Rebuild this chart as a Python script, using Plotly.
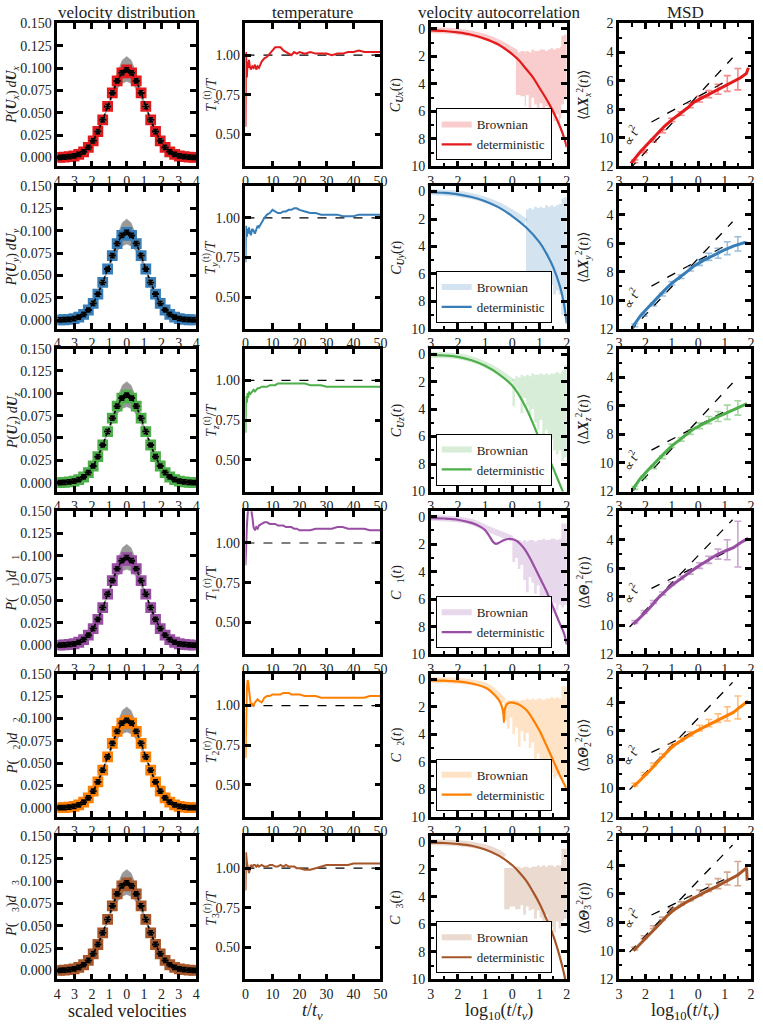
import plotly.graph_objects as go
from plotly.subplots import make_subplots

# ---------------- data ----------------
colors = ['#e41a1c', '#377eb8', '#4daf4a', '#984ea3', '#ff7f00', '#a65628']
light = ['rgba(228,26,28,0.22)', 'rgba(55,126,184,0.22)', 'rgba(77,175,74,0.22)',
         'rgba(152,78,163,0.22)', 'rgba(255,127,0,0.22)', 'rgba(166,86,40,0.22)']
errc = ['rgba(228,26,28,0.5)', 'rgba(55,126,184,0.5)', 'rgba(77,175,74,0.5)',
        'rgba(152,78,163,0.5)', 'rgba(255,127,0,0.5)', 'rgba(166,86,40,0.5)']

# velocity distribution (same binning in every row)
v_bins = [-3.86, -3.59, -3.31, -3.03, -2.76, -2.48, -2.21, -1.93, -1.66, -1.38, -1.10, -0.83, -0.55,
          -0.28, 0.0, 0.28, 0.55, 0.83, 1.10, 1.38, 1.66, 1.93, 2.21, 2.48, 2.76, 3.03, 3.31, 3.59, 3.86]
p_vals = [0.0001, 0.0003, 0.0008, 0.0016, 0.0033, 0.0063, 0.0112, 0.0186, 0.0290, 0.0421, 0.0571,
          0.0722, 0.0856, 0.0947, 0.0980, 0.0947, 0.0856, 0.0722, 0.0571, 0.0421, 0.0290, 0.0186,
          0.0112, 0.0063, 0.0033, 0.0016, 0.0008, 0.0003, 0.0001]
p_err = 0.0022
band_x = [-4, -3.5, -3, -2.5, -2, -1.5, -1.25, -1, -0.75, -0.5, -0.25, 0, 0.25, 0.5, 0.75, 1, 1.25,
          1.5, 2, 2.5, 3, 3.5, 4]
band_hi = [0.0, 0.0001, 0.0005, 0.003, 0.011, 0.030, 0.045, 0.062, 0.081, 0.097, 0.109, 0.113, 0.109,
           0.097, 0.081, 0.062, 0.045, 0.030, 0.011, 0.003, 0.0005, 0.0001, 0.0]
band_lo = [0.0003, 0.0012, 0.0038, 0.0097, 0.020, 0.039, 0.050, 0.060, 0.069, 0.078, 0.083, 0.085,
           0.083, 0.078, 0.069, 0.060, 0.050, 0.039, 0.020, 0.0097, 0.0038, 0.0012, 0.0003]

# temperature
t_temp = [0, 0.2, 0.5, 0.8, 1, 1.3, 1.6, 2, 2.5, 3, 3.5, 4, 4.5, 5, 6, 7, 8, 9, 10, 11, 12, 13, 14, 15,
          16, 17, 18, 19, 20, 22, 24, 26, 28, 30, 32, 34, 36, 38, 40, 42, 44, 46, 48, 50]
T_red = [0.55, 1.02, 0.86, 0.96, 0.92, 0.97, 0.93, 0.91, 0.93, 0.92, 0.94, 0.91, 0.93, 0.92, 0.96, 0.98,
         0.99, 1.01, 1.03, 1.05, 1.05, 1.05, 1.03, 1.02, 1.01, 1.00, 1.02, 1.01, 1.02, 1.01, 1.02, 1.01,
         1.01, 1.01, 1.00, 1.01, 1.01, 1.02, 1.02, 1.03, 1.02, 1.02, 1.02, 1.02]
T_blue = [0.72, 0.95, 0.88, 0.93, 0.90, 0.94, 0.91, 0.89, 0.93, 0.92, 0.90, 0.93, 0.95, 0.94, 0.97, 1.00,
          1.02, 1.03, 1.05, 1.04, 1.03, 1.03, 1.04, 1.04, 1.05, 1.05, 1.06, 1.06, 1.05, 1.04, 1.03, 1.03,
          1.02, 1.02, 1.02, 1.02, 1.01, 1.01, 1.01, 1.02, 1.02, 1.02, 1.02, 1.02]
T_green = [0.67, 0.90, 0.86, 0.92, 0.89, 0.93, 0.91, 0.92, 0.93, 0.94, 0.93, 0.94, 0.95, 0.95, 0.96, 0.96,
           0.96, 0.97, 0.97, 0.97, 0.98, 0.98, 0.98, 0.98, 0.98, 0.98, 0.98, 0.98, 0.98, 0.98, 0.97, 0.97,
           0.97, 0.96, 0.96, 0.96, 0.96, 0.96, 0.96, 0.96, 0.96, 0.96, 0.96, 0.96]
T_purple = [0.86, 1.00, 1.10, 1.18, 1.22, 1.25, 1.24, 1.22, 1.17, 1.10, 1.08, 1.10, 1.09, 1.11, 1.12, 1.13,
            1.13, 1.12, 1.12, 1.12, 1.11, 1.11, 1.11, 1.10, 1.10, 1.10, 1.09, 1.09, 1.08, 1.08, 1.08, 1.09,
            1.09, 1.09, 1.09, 1.10, 1.10, 1.09, 1.09, 1.09, 1.09, 1.08, 1.08, 1.08]
T_orange = [0.67, 0.95, 1.10, 1.16, 1.15, 1.10, 1.04, 1.00, 1.01, 1.00, 1.02, 1.03, 1.04, 1.03, 1.02, 1.05,
            1.06, 1.06, 1.07, 1.07, 1.07, 1.07, 1.08, 1.08, 1.08, 1.07, 1.07, 1.07, 1.07, 1.06, 1.06, 1.06,
            1.05, 1.05, 1.05, 1.05, 1.05, 1.05, 1.05, 1.05, 1.05, 1.06, 1.06, 1.06]
T_brown = [0.86, 1.10, 1.04, 1.00, 0.98, 0.97, 0.99, 1.02, 1.01, 1.02, 1.02, 1.01, 1.02, 1.01, 1.02, 1.01,
           1.01, 1.02, 1.02, 1.01, 1.01, 1.02, 1.01, 1.02, 1.01, 1.01, 1.01, 1.00, 1.00, 0.99, 0.99, 1.00,
           1.01, 1.02, 1.02, 1.02, 1.02, 1.02, 1.03, 1.03, 1.03, 1.03, 1.03, 1.03]
T_rows = [T_red, T_blue, T_green, T_purple, T_orange, T_brown]
t_ref = [0, 50]
T_ref = [1.0, 1.0]

# velocity autocorrelation: deterministic curves
det_x = [
    [-3, -2.5, -2, -1.5, -1, -0.5, 0, 0.25, 0.5, 0.75, 1, 1.25, 1.5, 1.75, 1.9, 2],
    [-3, -2.5, -2, -1.5, -1, -0.5, 0, 0.5, 1, 1.25, 1.5, 1.75, 1.9, 2],
    [-3, -2.5, -2, -1.5, -1, -0.5, 0, 0.25, 0.5, 0.75, 1, 1.25, 1.5, 1.75, 1.9],
    [-3, -2.5, -2, -1.5, -1.2, -1, -0.85, -0.7, -0.6, -0.5, -0.3, -0.15, 0.1, 0.3, 0.5, 0.75, 1, 1.25,
     1.5, 1.75, 1.9, 2],
    [-3, -2.5, -2, -1.5, -1, -0.75, -0.5, -0.4, -0.33, -0.31, -0.28, -0.2, -0.05, 0.2, 0.5, 0.75, 1,
     1.25, 1.5, 1.75, 1.9, 2],
    [-3, -2.5, -2, -1.5, -1, -0.5, 0, 0.25, 0.5, 0.75, 1, 1.25, 1.5, 1.75, 1.9, 1.95],
]
det_y = [
    [-0.1, -0.15, -0.25, -0.42, -0.72, -1.15, -1.85, -2.3, -2.9, -3.5, -4.3, -5.1, -6.0, -7.1, -7.9, -8.6],
    [-0.05, -0.1, -0.2, -0.4, -0.7, -1.15, -1.8, -2.6, -3.7, -4.5, -5.5, -6.9, -8.2, -9.6],
    [-0.05, -0.1, -0.2, -0.45, -0.85, -1.45, -2.3, -3.0, -3.9, -5.0, -6.2, -7.2, -8.3, -9.5, -10.2],
    [-0.1, -0.13, -0.22, -0.45, -0.7, -0.98, -1.4, -1.85, -1.97, -1.9, -1.7, -1.62, -1.7, -2.0, -2.5, -3.4,
     -4.4, -5.4, -6.6, -7.8, -8.5, -9.3],
    [-0.08, -0.1, -0.15, -0.3, -0.6, -0.95, -1.5, -1.9, -2.5, -3.1, -2.2, -1.8, -1.68, -1.8, -2.2, -2.9,
     -3.75, -4.8, -5.9, -7.0, -7.6, -8.0],
    [-0.05, -0.08, -0.15, -0.28, -0.55, -1.0, -1.7, -2.2, -2.8, -3.6, -4.5, -5.6, -6.8, -8.4, -9.6, -10.1],
]
# Brownian: smooth early part
brw_x = [
    [-3, -2.5, -2, -1.5, -1, -0.5, 0, 0.15],
    [-3, -2.5, -2, -1.5, -1, -0.5, 0, 0.5],
    [-3, -2.5, -2, -1.5, -1, -0.5, 0],
    [-3, -2.5, -2, -1.5, -1, -0.5, 0],
    [-3, -2.5, -2, -1.5, -1, -0.75, -0.5, -0.3],
    [-3, -2.5, -2, -1.5, -1, -0.5, -0.3],
]
brw_y = [
    [-0.08, -0.12, -0.2, -0.35, -0.6, -1.0, -1.55, -1.75],
    [-0.04, -0.08, -0.16, -0.33, -0.6, -1.0, -1.55, -2.2],
    [-0.04, -0.08, -0.16, -0.38, -0.75, -1.3, -2.0],
    [-0.08, -0.12, -0.2, -0.38, -0.8, -1.2, -1.6],
    [-0.05, -0.07, -0.12, -0.22, -0.45, -0.75, -1.2, -1.6],
    [-0.03, -0.05, -0.1, -0.2, -0.4, -0.8, -1.1],
]
# Brownian: noisy late part (upper / lower envelope)
nz_x = [
    [0.13, 0.3, 0.45, 0.5, 0.6, 0.7, 0.8, 0.9, 1.0, 1.1, 1.2, 1.3, 1.4, 1.5, 1.6, 1.7, 1.75, 1.8, 1.9, 2.0],
    [0.5, 0.6, 0.7, 0.8, 0.9, 1.0, 1.1, 1.2, 1.3, 1.4, 1.5, 1.6, 1.7, 1.8, 1.9, 2.0],
    [0.0, 0.1, 0.2, 0.3, 0.4, 0.5, 0.6, 0.7, 0.8, 0.9, 1.0, 1.1, 1.2, 1.3, 1.4, 1.5, 1.6, 1.7, 1.8, 1.9, 2.0],
    [0.0, 0.1, 0.2, 0.3, 0.4, 0.5, 0.6, 0.7, 0.8, 0.9, 1.0, 1.1, 1.2, 1.3, 1.4, 1.5, 1.6, 1.7, 1.8, 1.9, 2.0],
    [-0.3, -0.2, -0.1, 0.0, 0.1, 0.2, 0.3, 0.4, 0.5, 0.6, 0.7, 0.8, 0.9, 1.0, 1.1, 1.2, 1.3, 1.4, 1.5,
     1.6, 1.7, 1.8, 1.9, 2.0],
    [-0.3, -0.1, 0.1, 0.3, 0.4, 0.5, 0.6, 0.7, 0.8, 0.9, 1.0, 1.1, 1.2, 1.3, 1.4, 1.5, 1.6, 1.7, 1.8, 1.9, 2.0],
]
nz_up = [
    [-1.7, -1.6, -1.7, -1.6, -1.7, -1.5, -1.6, -1.6, -1.5, -1.5, -1.6, -1.5, -1.4, -1.5, -1.4, -1.4, -1.3,
     -0.5, -0.4, -0.4],
    [-1.3, -1.2, -1.3, -1.1, -1.2, -1.1, -1.2, -1.0, -1.1, -1.0, -1.1, -1.0, -0.9, -0.5, -0.4, -0.4],
    [-1.8, -1.6, -1.7, -1.5, -1.6, -1.5, -1.6, -1.4, -1.5, -1.5, -1.4, -1.5, -1.4, -1.5, -1.4, -1.4, -1.3,
     -1.4, -1.2, -0.8, -0.7],
    [-1.7, -1.8, -1.7, -1.8, -1.7, -1.8, -1.7, -1.7, -1.8, -1.7, -1.7, -1.6, -1.7, -1.7, -1.6, -1.6, -1.7,
     -1.6, -0.5, -0.5, -0.5],
    [-1.6, -1.5, -1.6, -1.5, -1.5, -1.6, -1.5, -1.5, -1.4, -1.5, -1.4, -1.5, -1.4, -1.4, -1.5, -1.4, -1.4,
     -1.3, -1.4, -1.3, -1.4, -0.5, -0.5, -0.5],
    [-1.9, -1.9, -1.8, -1.9, -1.8, -1.8, -1.9, -1.8, -1.8, -1.7, -1.8, -1.7, -1.8, -1.7, -1.7, -1.8, -1.7,
     -1.7, -0.5, -0.5, -0.5],
]
nz_lo = [
    [-4.8, -4.8, -4.9, -5.6, -4.8, -6.4, -5.0, -5.5, -6.4, -5.4, -6.3, -5.6, -6.4, -6.2, -6.7, -6.2, -7.0,
     -6.5, -5.5, -5.0],
    [-5.2, -6.5, -6.0, -7.0, -6.5, -6.5, -8.2, -6.8, -7.5, -8.0, -6.8, -7.5, -7.2, -7.5, -9.0, -8.5],
    [-2.2, -3.8, -2.5, -3.0, -4.3, -3.2, -3.8, -4.5, -4.0, -5.0, -5.5, -4.8, -6.0, -5.5, -6.8, -6.2, -7.0,
     -7.3, -7.0, -7.8, -7.5],
    [-2.4, -3.3, -3.0, -3.8, -3.5, -4.6, -5.5, -4.4, -4.8, -5.6, -5.0, -6.2, -5.8, -7.2, -6.5, -7.0, -6.3,
     -6.8, -6.4, -6.6, -6.4],
    [-2.5, -3.0, -3.6, -2.8, -4.0, -3.5, -4.9, -3.8, -4.5, -3.9, -5.0, -4.6, -6.0, -5.4, -7.0, -6.2, -7.2,
     -6.5, -6.8, -7.2, -7.0, -6.8, -7.2, -7.0],
    [-4.8, -4.9, -4.7, -4.9, -4.6, -5.3, -4.7, -5.0, -4.9, -5.6, -5.0, -5.5, -6.0, -5.3, -6.5, -6.2, -6.6,
     -5.8, -6.3, -5.8, -5.6],
]

# MSD
msd_x = [
    [-2.55, -2.2, -1.9, -1.6, -1.28, -1.0, -0.66, -0.4, -0.16, 0.2, 0.58, 0.95, 1.33, 1.6, 1.82, 1.9],
    [-2.5, -2.2, -1.9, -1.6, -1.28, -1.0, -0.66, -0.4, -0.16, 0.2, 0.58, 0.95, 1.33, 1.6, 1.75, 1.85],
    [-2.5, -2.2, -1.9, -1.6, -1.28, -1.0, -0.66, -0.4, -0.16, 0.2, 0.58, 0.95, 1.33, 1.6, 1.75, 1.85],
    [-2.45, -2.2, -1.9, -1.53, -1.2, -0.9, -0.66, -0.35, -0.04, 0.3, 0.7, 1.0, 1.33, 1.6, 1.89],
    [-2.45, -2.28, -1.9, -1.5, -1.2, -0.91, -0.5, -0.16, 0.2, 0.7, 1.0, 1.33, 1.6, 1.89],
    [-2.45, -2.34, -1.9, -1.5, -1.2, -0.91, -0.5, -0.16, 0.2, 0.7, 1.0, 1.26, 1.5, 1.83, 1.85, 1.9],
]
msd_y = [
    [-11.8, -11.0, -10.4, -9.8, -9.2, -8.75, -8.3, -7.9, -7.5, -7.15, -6.8, -6.45, -6.1, -5.8, -5.5, -5.1],
    [-11.9, -11.1, -10.5, -9.9, -9.3, -8.8, -8.35, -7.95, -7.6, -7.2, -6.85, -6.5, -6.2, -6.05, -5.95, -6.0],
    [-11.9, -11.1, -10.5, -9.9, -9.3, -8.8, -8.35, -7.95, -7.6, -7.25, -6.9, -6.6, -6.3, -6.1, -5.95, -5.85],
    [-9.9, -9.45, -8.9, -8.1, -7.5, -7.05, -6.7, -6.3, -5.9, -5.5, -5.05, -4.8, -4.55, -4.2, -3.9],
    [-9.9, -9.6, -8.9, -8.1, -7.5, -7.0, -6.5, -6.1, -5.75, -5.3, -5.0, -4.7, -4.3, -3.9],
    [-10.0, -9.8, -9.0, -8.2, -7.6, -7.13, -6.65, -6.3, -5.95, -5.5, -5.2, -4.9, -4.7, -4.2, -5.0, -5.0],
]
err_x = [-2.4, -2.05, -1.7, -1.35, -1.0, -0.65, -0.3, 0.05, 0.4, 0.75, 1.1, 1.5]
err_y = [
    [-11.65, -10.95, -10.2, -9.55, -8.75, -8.3, -7.75, -7.3, -6.95, -6.6, -6.2, -5.9],
    [-11.75, -11.0, -10.3, -9.6, -8.8, -8.35, -7.8, -7.35, -6.95, -6.7, -6.35, -6.05],
    [-11.75, -11.0, -10.3, -9.6, -8.8, -8.35, -7.85, -7.4, -7.0, -6.75, -6.45, -6.15],
    [-9.75, -9.05, -8.35, -7.75, -7.05, -6.65, -6.25, -5.8, -5.4, -5.0, -4.7, -4.3],
    [-9.75, -9.0, -8.35, -7.7, -7.0, -6.6, -6.2, -5.8, -5.45, -5.1, -4.8, -4.35],
    [-9.85, -9.05, -8.35, -7.75, -7.1, -6.7, -6.35, -5.95, -5.6, -5.3, -4.95, -4.6],
]
err_h = [
    [0.1, 0.1, 0.1, 0.1, 0.12, 0.12, 0.15, 0.2, 0.25, 0.35, 0.55, 0.75],
    [0.1, 0.1, 0.1, 0.1, 0.12, 0.12, 0.15, 0.2, 0.25, 0.35, 0.45, 0.5],
    [0.1, 0.1, 0.1, 0.1, 0.12, 0.12, 0.15, 0.2, 0.25, 0.35, 0.5, 0.5],
    [0.1, 0.1, 0.1, 0.1, 0.1, 0.12, 0.15, 0.2, 0.25, 0.35, 0.7, 1.6],
    [0.1, 0.1, 0.1, 0.1, 0.1, 0.12, 0.15, 0.2, 0.25, 0.3, 0.5, 0.8],
    [0.1, 0.1, 0.1, 0.1, 0.1, 0.12, 0.15, 0.2, 0.25, 0.35, 0.45, 0.85],
]
steep_x = [-2.6, 1.3]
steep_y = [[-12.2, -4.4], [-12.2, -4.5], [-12.2, -4.4], [-10.1, -2.6], [-10.1, -2.6], [-10.1, -2.6]]
flat_x = [-1.77, 1.0]
flat_y = [[-8.9, -6.1], [-9.0, -6.2], [-9.1, -6.4], [-7.4, -4.9], [-7.5, -5.0], [-7.5, -5.0]]
msd_top = [-2, -2, -2, -2, -2, -2]

# labels
col_titles = ['velocity distribution', 'temperature', 'velocity autocorrelation', 'MSD']
comp = ['x', 'y', 'z']
gap = '\u00a0\u00a0\u00a0'
ylab_p = [f'<i>P</i>(<b><i>U</i></b><sub><i>{c}</i></sub>)<i>\u2009d</i><b><i>U</i></b><sub><i>{c}</i></sub>'
          for c in comp] + [f'<i>P</i>({gap}<sub>{k}</sub>)<i>d</i>{gap}<sub>{k}</sub>' for k in (1, 2, 3)]
ylab_t = [f'<i>T</i><sub><i>{c}</i></sub><sup>(t)</sup>/<i>T</i>' for c in comp] + \
         ['<i>T</i><sub>1</sub><sup>(r)</sup>/T', '<i>T</i><sub>2</sub><sup>(r)</sup>/<i>T</i>',
          '<i>T</i><sub>3</sub><sup>(r)</sup>/<i>T</i>']
ylab_c = [f'<i>C</i><sub><b><i>U</i></b><i>{c}</i></sub>(<i>t</i>)' for c in comp] + \
         [f'<i>C</i><sub>{gap}{k}</sub>(<i>t</i>)' for k in (1, 2, 3)]
ylab_m = [f'\u27e8\u0394<b><i>X</i></b><sub><i>{c}</i></sub><sup>2</sup>(<i>t</i>)\u27e9' for c in comp] + \
         [f'\u27e8\u0394<b><i>\u0398</i></b><sub>{k}</sub><sup>2</sup>(<i>t</i>)\u27e9' for k in (1, 2, 3)]

# ---------------- figure ----------------
W, H = 763, 1029
FONT = 'Liberation Serif'
col_px = [(54, 195), (245, 382), (433, 571), (624, 758)]
row_top = 16.7
row_h = 145
row_step = 165

fig = make_subplots(rows=6, cols=4)

def axname(kind, n):
    return kind if n == 1 else f'{kind}{n}'

axis_style = dict(showline=True, linecolor='black', linewidth=2.5, mirror='ticks', ticks='inside',
                  ticklen=6, tickwidth=2.5, tickcolor='black', showgrid=False, zeroline=False,
                  ticklabeloverflow='allow',
                  tickfont=dict(family=FONT, size=14, color='#222'))
minor_style = dict(ticks='inside', ticklen=3.5, tickwidth=1.5, tickcolor='black')

for r in range(6):
    top = row_top + row_step * r
    bot = top + row_h
    for c in range(4):
        n = r * 4 + c + 1
        xa, ya = axname('xaxis', n), axname('yaxis', n)
        fig.layout[xa].update(domain=[col_px[c][0] / W, col_px[c][1] / W], **axis_style)
        fig.layout[ya].update(domain=[1 - bot / H, 1 - top / H], **axis_style)

    col = colors[r]
    row = r + 1

    # --- velocity distribution ---
    fig.add_trace(go.Scatter(x=band_x, y=band_lo, mode='lines', line=dict(color='#999', width=0.5),
                             showlegend=False, hoverinfo='skip'), row=row, col=1)
    fig.add_trace(go.Scatter(x=band_x, y=band_hi, mode='lines', line=dict(color='#999', width=0.5),
                             fill='tonexty', fillcolor='#999', showlegend=False, hoverinfo='skip'),
                  row=row, col=1)
    fig.add_trace(go.Scatter(x=v_bins, y=p_vals, mode='markers',
                             marker=dict(symbol='square-open', size=8, color=col, line=dict(width=2.8, color=col)),
                             showlegend=False), row=row, col=1)
    fig.add_trace(go.Scatter(x=v_bins, y=p_vals, mode='lines', line=dict(color='black', width=1.6, dash='dot'),
                             showlegend=False, hoverinfo='skip'), row=row, col=1)
    fig.add_trace(go.Scatter(x=v_bins, y=p_vals, mode='markers',
                             marker=dict(symbol='line-ew-open', size=5, color='black', line=dict(width=2, color='black')),
                             error_y=dict(type='constant', value=p_err, color='black', thickness=1.8, width=2.5),
                             showlegend=False), row=row, col=1)

    # --- temperature ---
    fig.add_trace(go.Scatter(x=t_ref, y=T_ref, mode='lines', line=dict(color='black', width=1.2, dash='dash'),
                             showlegend=False, hoverinfo='skip'), row=row, col=2)
    fig.add_trace(go.Scatter(x=t_temp, y=T_rows[r], mode='lines', line=dict(color=col, width=2),
                             showlegend=False), row=row, col=2)

    # --- velocity autocorrelation ---
    lg = 'legend' if r == 0 else f'legend{r + 1}'
    poly_x = nz_x[r] + nz_x[r][::-1]
    poly_y = nz_up[r] + nz_lo[r][::-1]
    fig.add_trace(go.Scatter(x=poly_x, y=poly_y, mode='lines', fill='toself', fillcolor=light[r],
                             line=dict(width=0, shape='hv'), showlegend=False, hoverinfo='skip',
                             legend=lg), row=row, col=3)
    fig.add_trace(go.Scatter(x=brw_x[r], y=brw_y[r], mode='lines', name='Brownian',
                             line=dict(color=light[r], width=6, shape='spline'), legend=lg), row=row, col=3)
    fig.add_trace(go.Scatter(x=det_x[r], y=det_y[r], mode='lines', name='deterministic',
                             line=dict(color=col, width=2.2, shape='spline'), legend=lg), row=row, col=3)

    # --- MSD ---
    fig.add_trace(go.Scatter(x=steep_x, y=steep_y[r], mode='lines', line=dict(color='black', width=1.3, dash='dash'),
                             showlegend=False, hoverinfo='skip'), row=row, col=4)
    fig.add_trace(go.Scatter(x=flat_x, y=flat_y[r], mode='lines', line=dict(color='black', width=1.3, dash='dash'),
                             showlegend=False, hoverinfo='skip'), row=row, col=4)
    fig.add_trace(go.Scatter(x=err_x, y=err_y[r], mode='markers', marker=dict(size=1, color=errc[r]),
                             error_y=dict(type='data', array=err_h[r], color=errc[r], thickness=1.6, width=3.5),
                             showlegend=False), row=row, col=4)
    fig.add_trace(go.Scatter(x=msd_x[r], y=msd_y[r], mode='lines', line=dict(color=col, width=3),
                             showlegend=False), row=row, col=4)

    # axes ranges / ticks
    n0 = r * 4
    fig.layout[axname('xaxis', n0 + 1)].update(range=[-4, 4], tickvals=[-4, -3, -2, -1, 0, 1, 2, 3, 4],
                                               ticktext=['4', '3', '2', '1', '0', '1', '2', '3', '4'])
    fig.layout[axname('yaxis', n0 + 1)].update(range=[-0.01, 0.15], tickvals=[0, 0.025, 0.05, 0.075, 0.1, 0.125, 0.15],
                                               tickformat='.3f')
    fig.layout[axname('xaxis', n0 + 2)].update(range=[0, 50], tickvals=[0, 10, 20, 30, 40, 50])
    fig.layout[axname('yaxis', n0 + 2)].update(range=[0.3, 1.2], tickvals=[0.5, 0.75, 1.0], tickformat='.2f')
    for cc in (3, 4):
        fig.layout[axname('xaxis', n0 + cc)].update(range=[-3, 2], tickvals=[-3, -2, -1, 0, 1, 2],
                                                    ticktext=['3', '2', '1', '0', '1', '2'],
                                                    minor=dict(tickvals=[-2.5, -1.5, -0.5, 0.5, 1.5], **minor_style))
    fig.layout[axname('yaxis', n0 + 3)].update(range=[-10, 0.4], tickvals=[0, -2, -4, -6, -8, -10],
                                               ticktext=['0', '2', '4', '6', '8', '10'],
                                               minor=dict(tickvals=[-1, -3, -5, -7, -9], **minor_style))
    fig.layout[axname('yaxis', n0 + 4)].update(range=[-12, msd_top[r]], tickvals=[-2, -4, -6, -8, -10, -12],
                                               ticktext=['2', '4', '6', '8', '10', '12'],
                                               minor=dict(tickvals=[-3, -5, -7, -9, -11], **minor_style))

    # legend for autocorrelation panel
    fig.layout[lg] = dict(x=(col_px[2][0] + 5) / W, y=1 - (bot - 6) / H, xanchor='left', yanchor='bottom',
                          bordercolor='black', borderwidth=1, bgcolor='white', traceorder='normal',
                          font=dict(family=FONT, size=13, color='#222'), tracegroupgap=0,
                          itemwidth=30)

    # y labels
    yc = 1 - (top + row_h / 2) / H
    for xpix, txt in zip((9, 210, 399, 588), (ylab_p[r], ylab_t[r], ylab_c[r], ylab_m[r])):
        fig.add_annotation(x=xpix / W, y=yc, xref='paper', yref='paper', text=txt, textangle=-90,
                           showarrow=False, xanchor='center', yanchor='middle',
                           font=dict(family=FONT, size=14, color='#222'))

    # proportionality label
    fig.add_annotation(x=-2.55, y=steep_y[r][0] + 2.4, xref=axname('x', n0 + 4), yref=axname('y', n0 + 4),
                       text='\u221d <i>t</i><sup>2</sup>', textangle=-62, showarrow=False,
                       font=dict(family=FONT, size=13, color='#222'))

# column titles
for c, txt in enumerate(col_titles):
    fig.add_annotation(x=(col_px[c][0] + col_px[c][1]) / 2 / W, y=1 - 6 / H, xref='paper', yref='paper',
                       text=txt, showarrow=False, xanchor='center', yanchor='middle',
                       font=dict(family=FONT, size=17, color='#222'))

# bottom labels
bottom_labels = ['scaled velocities', '<i>t</i>/<i>t</i><sub><i>\u03bd</i></sub>',
                 'log<sub>10</sub>(<i>t</i>/<i>t</i><sub><i>\u03bd</i></sub>)',
                 'log<sub>10</sub>(<i>t</i>/<i>t</i><sub><i>\u03bd</i></sub>)']
for c, txt in enumerate(bottom_labels):
    fig.add_annotation(x=(col_px[c][0] + col_px[c][1]) / 2 / W, y=1 - 1019 / H, xref='paper', yref='paper',
                       text=txt, showarrow=False, xanchor='center', yanchor='middle',
                       font=dict(family=FONT, size=18, color='#222'))

fig.update_layout(width=W, height=H, margin=dict(l=0, r=0, t=0, b=0),
                  plot_bgcolor='white', paper_bgcolor='white',
                  font=dict(family=FONT, size=13, color='#222'))

# page body has a default 8px margin; drop it so the figure fills the window
fig.write_html("out.html", config={'displayModeBar': False},
               post_script="document.body.style.margin='0';")
